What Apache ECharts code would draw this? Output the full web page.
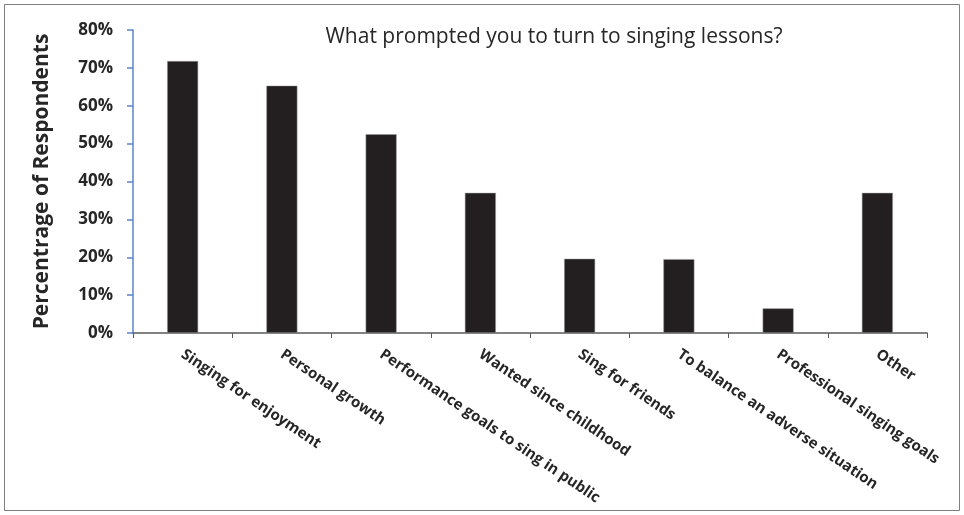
<!DOCTYPE html>
<html>
<head>
<meta charset="utf-8">
<script src="https://cdn.jsdelivr.net/npm/echarts@6/dist/echarts.min.js"></script>
<style>
html,body{margin:0;padding:0;background:#fff;}
#chart{width:964px;height:515px;}
</style>
</head>
<body>
<div id="chart"></div>
<script>
const categories = [
  "Singing for enjoyment",
  "Personal growth",
  "Performance goals to sing in public",
  "Wanted since childhood",
  "Sing for friends",
  "To balance an adverse situation",
  "Professional singing goals",
  "Other"
];
const percentages = [71.8, 65.3, 52.5, 37.0, 19.6, 19.5, 6.5, 37.0];
const chartTitle = "What prompted you to turn to singing lessons?";
const yAxisTitle = "Percentrage of Respondents";

const chart = echarts.init(document.getElementById('chart'));
chart.setOption({
  animation: false,
  backgroundColor: '#ffffff',
  graphic: [{
    type: 'rect',
    shape: {x: 4.5, y: 4.5, width: 955, height: 506},
    style: {fill: 'none', stroke: '#7f7f7f', lineWidth: 1},
    silent: true
  }],
  title: {
    text: chartTitle,
    left: 549, top: 22, textAlign: 'center',
    textStyle: {fontFamily: 'Open Sans', fontWeight: 'normal', fontSize: 21, color: '#262626'}
  },
  grid: {left: 133, right: 37, top: 30, bottom: 182, containLabel: false},
  xAxis: {
    type: 'category',
    data: categories,
    boundaryGap: true,
    axisLine: {lineStyle: {color: '#595959', width: 1.5}},
    axisTick: {show: true, alignWithLabel: false, length: 5, lineStyle: {color: '#595959'}},
    axisLabel: {
      interval: 0, rotate: -34, margin: 20,
      fontFamily: 'Open Sans', fontWeight: 'bold', fontSize: 15, color: '#262626'
    },
    splitLine: {show: false}
  },
  yAxis: {
    type: 'value',
    min: 0, max: 80, interval: 10,
    name: yAxisTitle,
    nameLocation: 'middle',
    nameGap: 80,
    nameRotate: 90,
    nameTextStyle: {fontFamily: 'Open Sans', fontWeight: 'bold', fontSize: 21, color: '#262626'},
    axisLine: {show: true, lineStyle: {color: '#5b84cc', width: 1.5}},
    axisTick: {show: true, length: 6, lineStyle: {color: '#5b84cc', width: 1.5}},
    axisLabel: {
      formatter: '{value}%', margin: 20,
      fontFamily: 'Open Sans', fontWeight: 'bold', fontSize: 17, color: '#262626'
    },
    splitLine: {show: false}
  },
  series: [{
    type: 'bar',
    data: percentages,
    barWidth: 31,
    itemStyle: {color: '#231f20', borderColor: '#a0a0a0', borderWidth: 0.5}
  }]
});
</script>
</body>
</html>
